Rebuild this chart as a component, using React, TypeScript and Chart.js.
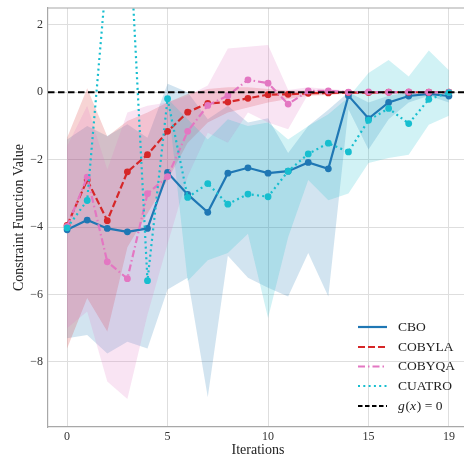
import React, { useEffect, useRef } from "react";
import { Chart, registerables } from "chart.js";

Chart.register(...registerables);

// Iteration index
const ITERATIONS = [0, 1, 2, 3, 4, 5, 6, 7, 8, 9, 10, 11, 12, 13, 14, 15, 16, 17, 18, 19];

// Mean constraint value per method
const CBO_MEAN = [-4.08, -3.79, -4.04, -4.14, -4.04, -2.38, -3.03, -3.56, -2.4, -2.24, -2.4, -2.34, -2.08, -2.27, -0.1, -0.78, -0.3, -0.11, -0.05, -0.11];
const COBYLA_MEAN = [-3.95, -2.6, -3.81, -2.36, -1.85, -1.16, -0.59, -0.33, -0.29, -0.18, -0.07, -0.06, -0.03, -0.02, -0.01, -0.01, 0.0, 0.0, 0.0, 0.0];
const COBYQA_MEAN = [-3.98, -2.52, -5.03, -5.53, -3.01, -2.5, -1.16, -0.39, -0.1, 0.37, 0.27, -0.35, 0.04, 0.04, 0.0, 0.01, 0.0, 0.01, 0.0, 0.0];
const CUATRO_MEAN = [-4.02, -3.21, 3.74, 6.0, -5.59, -0.19, -3.12, -2.71, -3.32, -3.02, -3.1, -2.34, -1.83, -1.51, -1.77, -0.83, -0.48, -0.93, -0.21, -0.01];

// Spread bands (upper / lower) per method
const CBO_UPPER = [-1.4, -1.0, -1.3, -0.95, -1.35, 0.25, 0.0, -0.8, -0.4, -0.9, -0.77, -1.8, -1.0, -0.52, 0.0, -0.3, -0.1, 0.0, 0.0, -0.1];
const CBO_LOWER = [-7.3, -7.2, -7.75, -7.4, -7.6, -5.85, -5.5, -9.05, -4.85, -5.5, -5.8, -6.06, -4.77, -6.06, -0.5, -1.7, -0.8, -0.3, -0.1, -0.3];
const COBYLA_UPPER = [-1.35, 0.12, -1.31, -0.85, -0.6, -0.3, -0.05, 0.1, 0.15, 0.15, 0.1, 0.05, 0.05, 0.05, 0.02, 0.02, 0.01, 0.01, 0.01, 0.01];
const COBYLA_LOWER = [-7.6, -6.1, -7.1, -4.6, -3.6, -2.6, -1.5, -0.9, -0.6, -0.45, -0.3, -0.2, -0.1, -0.08, -0.04, -0.03, -0.02, -0.02, -0.02, -0.02];
const COBYQA_UPPER = [-1.6, -0.4, -2.3, -0.6, -0.4, -0.3, -0.1, 0.2, 1.3, 1.35, 1.4, 0.07, 0.15, 0.1, 0.05, 0.03, 0.03, 0.03, 0.03, 0.02];
const COBYQA_LOWER = [-7.0, -6.5, -8.58, -9.1, -6.6, -4.5, -2.5, -1.2, -1.5, -0.6, -0.9, -1.1, -0.05, -0.03, -0.03, -0.02, -0.02, -0.02, -0.02, -0.02];
const CUATRO_UPPER = [null, null, null, null, null, -0.19, -0.8, -1.4, -0.8, -1.0, -0.9, -1.4, -1.0, -0.65, -0.15, 0.57, 0.96, 0.47, 1.24, 0.65];
const CUATRO_LOWER = [null, null, null, null, null, -0.19, -5.6, -4.98, -4.77, -4.2, -6.7, -4.3, -2.6, -3.2, -3.0, -2.1, -1.95, -1.85, -0.96, -0.7];

// Axis ticks and limits
const X_TICKS = [0, 5, 10, 15, 19];
const Y_TICKS = [-8, -6, -4, -2, 0, 2];
const X_MIN = -0.95;
const X_MAX = 19.95;
const Y_MIN = -9.93;
const Y_MAX = 2.5;

const SERIF = "'Liberation Serif', 'DejaVu Serif', serif";

type Method = {
  name: string;
  color: string;
  band: string;
  dash: number[];
  mean: number[];
  upper: (number | null)[];
  lower: (number | null)[];
};

const METHODS: Method[] = [
  { name: "CBO", color: "#1f77b4", band: "rgba(31,119,180,0.2)", dash: [], mean: CBO_MEAN, upper: CBO_UPPER, lower: CBO_LOWER },
  { name: "COBYLA", color: "#d62728", band: "rgba(214,39,40,0.2)", dash: [7, 3], mean: COBYLA_MEAN, upper: COBYLA_UPPER, lower: COBYLA_LOWER },
  { name: "COBYQA", color: "#e377c2", band: "rgba(227,119,194,0.2)", dash: [7, 3, 1.5, 3], mean: COBYQA_MEAN, upper: COBYQA_UPPER, lower: COBYQA_LOWER },
  { name: "CUATRO", color: "#17becf", band: "rgba(23,190,207,0.2)", dash: [2, 3.3], mean: CUATRO_MEAN, upper: CUATRO_UPPER, lower: CUATRO_LOWER },
];

const pts = (vals: (number | null)[]) => ITERATIONS.map((x, i) => ({ x, y: vals[i] }));

// Legend drawn inside the plot, lower right, without a frame
const legendPlugin = {
  id: "lineLegend",
  afterDraw(chart: any) {
    const { ctx } = chart;
    const x0 = 358;
    const x1 = 387;
    const tx = 398;
    const rows = [327, 347, 366.5, 386, 406];
    ctx.save();
    ctx.font = `13.5px ${SERIF}`;
    ctx.textBaseline = "middle";
    ctx.fillStyle = "#222";
    const entries = [...METHODS.map((m) => ({ label: m.name, color: m.color, dash: m.dash })), { label: "", color: "#000", dash: [4.5, 2.5] }];
    entries.forEach((e, i) => {
      const y = rows[i];
      ctx.beginPath();
      ctx.strokeStyle = e.color;
      ctx.lineWidth = 2.2;
      ctx.setLineDash(e.dash);
      ctx.moveTo(x0, y);
      ctx.lineTo(x1, y);
      ctx.stroke();
      ctx.setLineDash([]);
      if (e.label) {
        ctx.font = `13.5px ${SERIF}`;
        ctx.fillText(e.label, tx, y);
      } else {
        // g(x) = 0 with italic symbols
        let cx = tx;
        const parts: [string, boolean][] = [["g", true], ["(", false], ["x", true], [")", false], [" = 0", false]];
        parts.forEach(([s, it]) => {
          ctx.font = `${it ? "italic " : ""}13.5px ${SERIF}`;
          ctx.fillText(s, cx, y);
          cx += ctx.measureText(s).width + (it ? 0.8 : 0);
        });
      }
    });
    ctx.restore();
  },
};

// Top frame line of the axes box
const framePlugin = {
  id: "topFrame",
  afterDraw(chart: any) {
    const { ctx, chartArea } = chart;
    ctx.save();
    ctx.strokeStyle = "#a8a8a8";
    ctx.lineWidth = 1.2;
    ctx.beginPath();
    ctx.moveTo(chartArea.left, chartArea.top);
    ctx.lineTo(chartArea.right, chartArea.top);
    ctx.stroke();
    ctx.restore();
  },
};

export default function App() {
  const ref = useRef<HTMLCanvasElement | null>(null);

  useEffect(() => {
    if (!ref.current) return;
    const datasets: any[] = [];
    // zero line on top
    datasets.push({
      label: "g(x) = 0",
      data: [{ x: X_MIN, y: 0 }, { x: X_MAX, y: 0 }],
      borderColor: "#000",
      borderWidth: 1.8,
      borderDash: [6.5, 3.5],
      pointRadius: 0,
      fill: false,
      order: 0,
    });
    METHODS.slice().reverse().forEach((m, k) => {
      datasets.push({
        label: m.name,
        data: pts(m.mean),
        borderColor: m.color,
        backgroundColor: m.color,
        borderWidth: 2.2,
        borderDash: m.dash,
        pointRadius: 3.4,
        pointBorderWidth: 0,
        pointBackgroundColor: m.color,
        fill: false,
        order: 1 + k,
      });
    });
    METHODS.slice().reverse().forEach((m, k) => {
      const idx = datasets.length;
      datasets.push({
        label: m.name + " upper",
        data: pts(m.upper),
        borderWidth: 0,
        borderColor: "rgba(0,0,0,0)",
        pointRadius: 0,
        backgroundColor: m.band,
        fill: idx + 1,
        order: 5 + k,
      });
      datasets.push({
        label: m.name + " lower",
        data: pts(m.lower),
        borderWidth: 0,
        borderColor: "rgba(0,0,0,0)",
        pointRadius: 0,
        fill: false,
        order: 5 + k,
      });
    });

    const chart = new Chart(ref.current, {
      type: "line",
      data: { datasets },
      plugins: [legendPlugin, framePlugin],
      options: {
        animation: false,
        responsive: false,
        maintainAspectRatio: false,
        layout: { padding: { left: 0, right: 3.7, top: 8, bottom: 0 } },
        plugins: { legend: { display: false }, tooltip: { enabled: false } },
        elements: { line: { tension: 0 } },
        scales: {
          x: {
            type: "linear",
            min: X_MIN,
            max: X_MAX,
            afterBuildTicks: (s: any) => {
              s.ticks = X_TICKS.map((v) => ({ value: v }));
            },
            afterFit: (s: any) => {
              s.height = 33;
              s.paddingLeft = 0;
              s.paddingRight = 0;
            },
            grid: { color: "#dedede", lineWidth: 1, drawTicks: false },
            border: { display: true, color: "#a8a8a8", width: 1.2 },
            ticks: {
              padding: 3,
              color: "#333",
              font: { family: SERIF, size: 12 },
              maxRotation: 0,
              callback: (v: any) => String(v),
            },
            title: {
              display: true,
              text: "Iterations",
              color: "#222",
              font: { family: SERIF, size: 14, lineHeight: 1 },
              padding: { top: 0, bottom: 3 },
            },
          },
          y: {
            type: "linear",
            min: Y_MIN,
            max: Y_MAX,
            afterBuildTicks: (s: any) => {
              s.ticks = Y_TICKS.map((v) => ({ value: v }));
            },
            afterFit: (s: any) => {
              s.width = 48;
              s.paddingTop = 0;
              s.paddingBottom = 0;
            },
            grid: { color: "#dedede", lineWidth: 1, drawTicks: false },
            border: { display: true, color: "#a8a8a8", width: 1.2 },
            ticks: {
              padding: 5,
              color: "#333",
              font: { family: SERIF, size: 12 },
              callback: (v: any) => (v < 0 ? "\u2212" + Math.abs(v) : String(v)),
            },
            title: {
              display: true,
              text: "Constraint Function Value",
              color: "#222",
              font: { family: SERIF, size: 14, lineHeight: 1 },
              padding: { top: 12.5, bottom: 0 },
            },
          },
        },
      },
    });
    return () => chart.destroy();
  }, []);

  return (
    <div style={{ position: "fixed", left: 0, top: 0, width: 464, height: 460, overflow: "hidden", background: "#fff" }}>
      <canvas ref={ref} width={472} height={460} style={{ display: "block", width: 472, height: 460 }} />
    </div>
  );
}
